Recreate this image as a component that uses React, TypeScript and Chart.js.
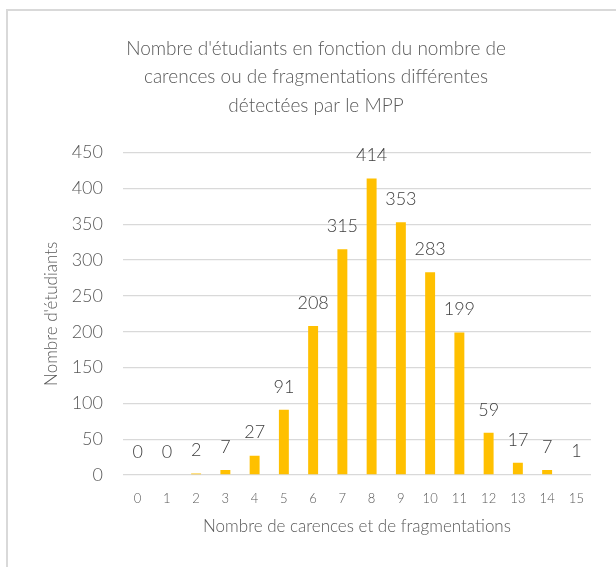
import React, { useEffect, useRef } from "react";
import { Chart, registerables } from "chart.js";

Chart.register(...registerables);

const categories = ["0", "1", "2", "3", "4", "5", "6", "7", "8", "9", "10", "11", "12", "13", "14", "15"];
const studentCounts = [0, 0, 2, 7, 27, 91, 208, 315, 414, 353, 283, 199, 59, 17, 7, 1];
const titleLines = [
  "Nombre d'étudiants en fonction du nombre de",
  "carences ou de fragmentations différentes",
  "détectées par le MPP",
];
const xTitle = "Nombre de carences et de fragmentations";
const yTitle = "Nombre d'étudiants";

const FONT = "Lato, 'Open Sans', sans-serif";
const W = 300;

const dataLabelPlugin = {
  id: "dataLabels",
  afterDatasetsDraw(chart: any) {
    const ctx = chart.ctx;
    const meta = chart.getDatasetMeta(0);
    ctx.save();
    ctx.font = `${W} 18px ${FONT}`;
    ctx.fillStyle = "#404040";
    ctx.textAlign = "center";
    ctx.textBaseline = "middle";
    meta.data.forEach((bar: any, i: number) => {
      const v = chart.data.datasets[0].data[i];
      ctx.fillText(String(v), bar.x, bar.y - 23);
    });
    ctx.restore();
  },
};

export default function App() {
  const canvasRef = useRef<HTMLCanvasElement | null>(null);

  useEffect(() => {
    if (!canvasRef.current) return;
    const chart = new Chart(canvasRef.current, {
      type: "bar",
      data: {
        labels: categories,
        datasets: [
          {
            data: studentCounts,
            backgroundColor: "#FFC000",
            barPercentage: 0.34,
            categoryPercentage: 1,
          },
        ],
      },
      options: {
        animation: false,
        responsive: false,
        maintainAspectRatio: false,
        layout: { padding: { left: 41, right: 25, top: 10, bottom: 30 } },
        plugins: {
          legend: { display: false },
          tooltip: { enabled: false },
          title: {
            display: true,
            text: titleLines,
            color: "#595959",
            font: { family: FONT, size: 19, weight: W as any, lineHeight: 1.52 },
            padding: { top: 24, bottom: 32 },
          },
        },
        scales: {
          x: {
            grid: { display: false },
            border: { display: false },
            ticks: { color: "#595959", font: { family: FONT, size: 13, weight: W as any }, padding: 8, maxRotation: 0 },
            title: {
              display: true,
              text: xTitle,
              color: "#595959",
              font: { family: FONT, size: 17, weight: W as any },
              padding: { top: 2, bottom: 0 },
            },
          },
          y: {
            min: 0,
            max: 450,
            afterFit: (scale: any) => {
              scale.width = 82;
            },
            ticks: { stepSize: 50, color: "#595959", font: { family: FONT, size: 18, weight: W as any }, padding: 20 },
            grid: { color: "#d9d9d9", lineWidth: 1.3, drawTicks: false },
            border: { display: false },
            title: {
              display: true,
              text: yTitle,
              color: "#595959",
              font: { family: FONT, size: 17, weight: W as any },
              padding: { top: 0, bottom: 4 },
            },
          },
        },
      },
      plugins: [dataLabelPlugin],
    });
    return () => chart.destroy();
  }, []);

  return (
    <div style={{ position: "fixed", left: 0, top: 0, width: 616, height: 567, background: "#fff", overflow: "hidden" }}>
      <div
        style={{
          position: "absolute",
          left: 6,
          top: 9,
          width: 640,
          height: 640,
          border: "2px solid #d9d9d9",
          boxSizing: "border-box",
        }}
      />
      <canvas ref={canvasRef} width={616} height={567} style={{ position: "absolute", left: 0, top: 0 }} />
    </div>
  );
}
